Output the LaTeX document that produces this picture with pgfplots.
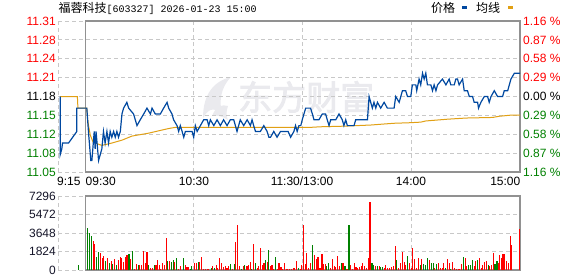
\documentclass[border=0pt]{standalone}
\usepackage{fontspec}
\setmainfont{Liberation Sans}
\newfontfamily\cjk{Noto Sans CJK SC}
\newfontfamily\cjkwm[FakeBold=2.5]{Noto Sans CJK SC}
\newfontfamily\mono{Liberation Mono}
\usepackage{pgfplots}
\pgfplotsset{compat=1.18}
\definecolor{pblue}{RGB}{0,72,160}
\definecolor{pgold}{RGB}{225,160,20}
\definecolor{vred}{RGB}{255,0,0}
\definecolor{vgreen}{RGB}{0,128,0}
\definecolor{framegray}{RGB}{145,145,145}
\definecolor{gridgray}{RGB}{200,200,200}
\definecolor{wm}{RGB}{234,234,238}
\definecolor{vlab}{RGB}{20,20,40}
\newcommand\lab{\fontsize{12bp}{14bp}\selectfont}
\begin{document}
\begin{tikzpicture}[x=1bp,y=1bp]
\useasboundingbox (0,0) rectangle (578,276);
% watermark
\fill[wm] (203,158) .. controls (203,182) and (214,195) .. (231,199) .. controls (221,189) and (218,174) .. (223,160) .. controls (216,168) and (210,170) .. (203,158) -- cycle;
\fill[wm] (212,160) .. controls (216,170) and (222,172) .. (228,170) .. controls (226,164) and (226,160) .. (228,156) .. controls (222,160) and (217,161) .. (212,160) -- cycle;
\node[anchor=west, text=wm, font=\cjkwm\fontsize{34bp}{34bp}\selectfont, inner sep=0] at (238,179) {东方财富};

% ---------- price panel ----------
\begin{axis}[at={(58bp,104bp)}, anchor=south west, width=462bp, height=151bp, scale only axis,
  xmin=-15, xmax=240, ymin=11.0503, ymax=11.3097,
  axis line style={draw=none}, major tick length=0pt,
  xtick={-15,60,120,180}, xticklabels={},
  ytick={11.0503,11.0827,11.1152,11.1476,11.18,11.2124,11.2448,11.2773,11.3097}, yticklabels={},
  grid=major, grid style={gridgray, dash pattern=on 4bp off 3bp, line width=0.8bp}, clip=false]
\draw[framegray, line width=1.1bp] (axis cs:0,11.0503) rectangle (axis cs:240,11.3097);
% average line
\addplot[pgold, line width=1bp] coordinates {
(-13.8,11.18) (-4.3,11.18) (-4.0,11.16) (0.9,11.16) (1.3,11.142) (1.8,11.131) (2.8,11.114) (4.3,11.102)
(6.5,11.099) (9.2,11.096) (14.7,11.100) (20.3,11.105) (25.8,11.112) (35.0,11.117) (40.5,11.121)
(46.1,11.125) (49.8,11.127) (124.4,11.127) (130.0,11.128) (142.7,11.129) (157.6,11.131) (170.3,11.134)
(179.7,11.135) (185.3,11.136) (188.0,11.138) (200.0,11.141) (210.1,11.143) (224.9,11.144) (228.4,11.146)
(235.0,11.148) (240.0,11.148)};
% price line
\addplot[pblue, line width=1.2bp] coordinates {
(-13.8,11.18) (-13.8,11.08) (-12.9,11.09) (-12.5,11.10) (-9.2,11.10) (-4.6,11.12) (-4.6,11.16) (0.9,11.16)
(1.8,11.12) (3.1,11.07) (3.7,11.07) (5.0,11.12) (5.5,11.09) (6.0,11.12) (7.4,11.07) (9.2,11.09)
(10.1,11.12) (11.0,11.10) (12.0,11.12) (12.9,11.10) (13.8,11.12) (14.7,11.11) (15.7,11.12) (16.6,11.11)
(17.5,11.12) (18.4,11.11) (19.4,11.12) (20.3,11.15) (21.2,11.16) (23.0,11.17) (24.0,11.16) (26.7,11.15)
(28.6,11.13) (30.4,11.14) (32.3,11.15) (34.1,11.16) (36.0,11.15) (36.9,11.16) (38.7,11.15) (41.5,11.15)
(43.3,11.16) (45.2,11.17) (46.1,11.16) (47.9,11.15) (48.8,11.14) (50.7,11.13) (51.6,11.12) (52.5,11.13)
(53.5,11.12) (54.4,11.11) (55.3,11.12) (59.0,11.12) (59.9,11.11) (60.8,11.13) (61.8,11.12) (63.6,11.13)
(65.4,11.14) (67.3,11.14) (68.2,11.13) (69.1,11.14) (71.0,11.13) (72.8,11.14) (74.6,11.13) (76.4,11.14)
(78.3,11.13) (80.1,11.14) (82.0,11.14) (83.8,11.12) (84.7,11.13) (85.6,11.14) (87.5,11.13) (89.4,11.14)
(91.2,11.13) (92.1,11.14) (93.0,11.13) (94.0,11.12) (96.7,11.12) (98.6,11.13) (100.4,11.12) (101.4,11.11)
(102.3,11.11) (104.1,11.12) (105.9,11.11) (107.8,11.12) (112.0,11.12) (113.4,11.11) (115.2,11.12)
(116.1,11.13) (117.0,11.12) (118.0,11.13) (119.0,11.13) (119.8,11.14) (121.7,11.16) (122.6,11.16)
(124.4,11.16) (125.4,11.15) (126.3,11.14) (129.0,11.14) (130.9,11.15) (132.7,11.15) (133.6,11.14)
(134.6,11.13) (135.5,11.14) (138.3,11.14) (140.1,11.15) (141.9,11.14) (142.8,11.13) (143.8,11.14)
(144.7,11.13) (148.4,11.13) (149.3,11.14) (155.8,11.14) (156.7,11.18) (157.6,11.17) (158.5,11.16)
(159.4,11.17) (160.4,11.16) (161.3,11.17) (163.1,11.16) (165.0,11.17) (166.8,11.16) (170.5,11.16)
(171.4,11.18) (173.3,11.17) (175.1,11.19) (176.9,11.19) (177.9,11.18) (179.7,11.18) (180.6,11.20)
(182.5,11.20) (183.0,11.19) (184.3,11.21) (185.2,11.20) (186.2,11.22) (187.1,11.21) (188.0,11.22)
(188.9,11.20) (190.8,11.20) (191.7,11.19) (192.6,11.20) (193.6,11.19) (194.5,11.20) (197.2,11.21)
(199.1,11.20) (200.9,11.21) (201.8,11.20) (203.7,11.20) (204.6,11.21) (205.5,11.21) (206.4,11.20)
(208.3,11.21) (209.2,11.19) (211.0,11.19) (212.0,11.18) (213.8,11.18) (214.7,11.17) (216.6,11.17)
(217.1,11.16) (218.4,11.17) (220.3,11.18) (222.1,11.18) (223.0,11.17) (224.0,11.18) (225.8,11.19)
(227.6,11.18) (230.4,11.18) (231.3,11.19) (233.2,11.19) (234.1,11.20) (235.0,11.21) (236.9,11.22)
(240.0,11.22)};
\end{axis}

% ---------- volume panel ----------
\begin{axis}[at={(58bp,6bp)}, anchor=south west, width=462bp, height=74bp, scale only axis,
  xmin=-15, xmax=240, ymin=0, ymax=7296,
  axis line style={draw=none}, major tick length=0pt,
  xtick={-15,60,120,180}, xticklabels={},
  ytick={0,1824,3648,5472,7296}, yticklabels={},
  grid=major, grid style={gridgray, dash pattern=on 4bp off 3bp, line width=0.8bp}, clip=false]
\draw[framegray, line width=1.1bp] (axis cs:0,0) rectangle (axis cs:240,7296);
\addplot[vgreen, ycomb, line width=1.1bp] coordinates {
(-3.9,490) (1.3,4173) (2.2,3680) (3.3,3352) (6.3,1314) (7.4,1774) (11.2,920) (13.4,723) (15.3,591)
(17.3,493) (24.2,1577) (26.1,1906) (29.2,493) (35.0,493) (38.2,493) (45.6,920) (47.6,822) (48.5,986)
(50.5,1150) (54.3,1150) (58.0,131) (58.9,394) (62.5,789) (69.5,164) (71.4,230) (80.3,591) (82.3,591)
(86.1,131) (88.1,493) (92.0,131) (94.1,657) (99.4,986) (101.3,1972) (105.2,1249) (117.8,164)
(125.7,2465) (133.4,394) (134.5,657) (141.5,657) (143.4,394) (145.6,4436) (158.3,657) (159.2,493)
(161.1,394) (163.1,329) (164.0,329) (171.9,986) (177.9,1380) (185.1,493) (186.9,591) (188.0,493)
(189.1,1150) (191.1,657) (192.1,657) (193.9,591) (198.9,164) (201.8,99) (208.9,1249) (211.8,493)
(212.7,493) (213.8,986) (216.6,986) (222.5,493) (226.2,591) (227.3,920)};
\addplot[vred, ycomb, line width=1.1bp] coordinates {
(4.4,2859) (5.2,2563) (8.3,1643) (9.4,1150) (10.1,1380) (12.3,1150) (14.3,887) (16.2,1051) (18.4,986)
(19.3,1314) (20.2,1150) (21.1,822) (22.2,1314) (23.1,1479) (25.0,1084) (27.2,99) (28.1,591) (30.1,493)
(31.0,493) (32.1,1873) (33.2,723) (34.1,1774) (36.0,230) (37.1,230) (39.1,493) (39.8,986) (40.9,493)
(41.8,131) (42.9,723) (43.8,493) (44.7,3155) (46.7,920) (49.4,822) (51.6,131) (52.7,394) (55.3,493)
(56.2,329) (57.1,329) (60.3,657) (61.2,657) (63.2,789) (64.2,1249) (65.3,99) (66.2,99) (67.3,99)
(68.2,99) (70.5,394) (72.5,460) (73.2,230) (74.2,1150) (75.1,723) (76.4,263) (77.3,394) (78.3,164)
(79.2,394) (81.2,99) (83.0,2793) (84.1,4436) (85.2,394) (87.2,394) (89.3,394) (90.2,493) (91.1,822)
(93.0,2563) (95.0,164) (95.9,394) (96.9,2136) (97.8,493) (98.7,723) (100.4,822) (102.4,394) (103.1,493)
(104.1,99) (106.1,131) (107.0,657) (108.1,329) (109.0,99) (110.1,657) (111.0,99) (111.9,99) (112.8,99)
(113.8,99) (114.9,164) (115.6,164) (116.7,887) (118.7,99) (119.6,493) (120.5,4436) (121.5,591)
(122.4,1643) (123.5,230) (124.6,657) (126.6,1479) (127.6,1051) (128.5,1314) (129.6,164) (130.7,1577)
(131.6,591) (132.5,591) (135.5,164) (136.7,1051) (137.5,394) (138.4,263) (139.5,1380) (140.4,394)
(142.3,657) (144.5,99) (146.6,493) (147.6,131) (148.4,657) (149.5,263) (150.5,164) (151.5,329)
(152.4,394) (153.3,657) (154.2,394) (155.2,164) (156.3,1150) (157.2,6671) (160.1,394) (162.2,394)
(165.1,164) (166.0,493) (167.1,164) (168.2,164) (169.1,329) (170.2,394) (171.3,2366) (172.9,164)
(174.0,657) (175.1,1807) (176.2,822) (176.9,493) (179.0,723) (179.9,164) (180.8,2136) (181.8,1084)
(182.9,164) (184.0,1150) (185.8,1051) (190.2,986) (193.0,164) (195.0,657) (196.1,230) (197.0,164)
(197.9,657) (200.0,1051) (200.9,657) (202.9,756) (203.8,230) (204.9,99) (205.8,99) (206.7,99)
(207.8,591) (210.0,1150) (210.7,394) (214.7,394) (215.6,887) (217.7,1150) (218.6,230) (219.5,493)
(220.4,756) (221.4,887) (223.4,394) (224.3,493) (225.3,1643) (228.0,723) (228.9,1479) (229.9,1150)
(230.6,1544) (231.5,1577) (232.6,887) (233.7,723) (234.6,3352) (235.4,2465) (239.6,4042)};
\end{axis}

% ---------- labels ----------
\begin{scope}[every node/.style={inner sep=0, font=\lab}]
% left price labels
\node[anchor=east, text=vgreen] at (56,104) {11.05};
\node[anchor=east, text=vgreen] at (56,122.875) {11.08};
\node[anchor=east, text=vgreen] at (56,141.75) {11.12};
\node[anchor=east, text=vgreen] at (56,160.625) {11.15};
\node[anchor=east, text=black] at (56,179.5) {11.18};
\node[anchor=east, text=vred] at (56,198.375) {11.21};
\node[anchor=east, text=vred] at (56,217.25) {11.24};
\node[anchor=east, text=vred] at (56,236.125) {11.28};
\node[anchor=east, text=vred] at (56,255) {11.31};
% right percent labels
\node[anchor=west, text=vgreen] at (523,104) {1.16 \%};
\node[anchor=west, text=vgreen] at (523,122.875) {0.87 \%};
\node[anchor=west, text=vgreen] at (523,141.75) {0.58 \%};
\node[anchor=west, text=vgreen] at (523,160.625) {0.29 \%};
\node[anchor=west, text=black] at (523,179.5) {0.00 \%};
\node[anchor=west, text=vred] at (523,198.375) {0.29 \%};
\node[anchor=west, text=vred] at (523,217.25) {0.58 \%};
\node[anchor=west, text=vred] at (523,236.125) {0.87 \%};
\node[anchor=west, text=vred] at (523,255) {1.16 \%};
% volume labels
\node[anchor=east, text=vlab] at (56,6) {0};
\node[anchor=east, text=vlab] at (56,24.5) {1824};
\node[anchor=east, text=vlab] at (56,43) {3648};
\node[anchor=east, text=vlab] at (56,61.5) {5472};
\node[anchor=east, text=vlab] at (56,80) {7296};
% time labels
\node[anchor=west] at (57,94.5) {9:15};
\node[anchor=west] at (85.5,94.5) {09:30};
\node at (194,94.5) {10:30};
\node at (302,94.5) {11:30/13:00};
\node at (411,94.5) {14:00};
\node[anchor=east] at (520.5,94.5) {15:00};
% title
\node[anchor=west] at (58.5,268) {{\cjk 福蓉科技}{\mono\fontsize{10bp}{12bp}\selectfont[603327] 2026-01-23 15:00}};
% legend
\node[anchor=west] at (431,268) {\cjk 价格};
\fill[pblue] (461.5,266.5) rectangle (467,269.5);
\node[anchor=west] at (476,268) {\cjk 均线};
\fill[pgold] (507.5,266.5) rectangle (513,269.5);
\end{scope}
\end{tikzpicture}
\end{document}
